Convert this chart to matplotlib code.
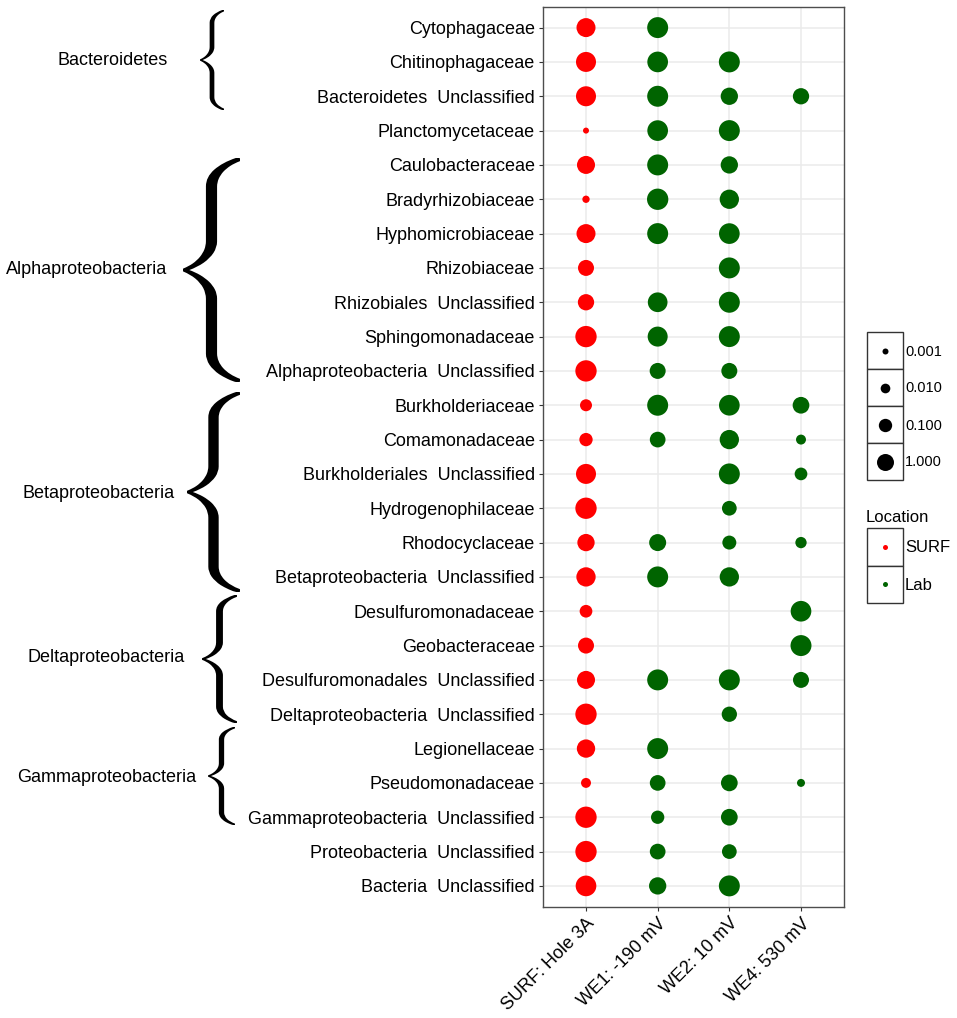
import os
import numpy as np
import matplotlib
matplotlib.use("Agg")
import matplotlib.pyplot as plt
from matplotlib.textpath import TextPath
from matplotlib.font_manager import FontProperties
from matplotlib.patches import PathPatch, Rectangle
from matplotlib.transforms import Affine2D

plt.rcParams['font.family'] = ['Liberation Sans', 'DejaVu Sans']

# ---------------- data ----------------
families = [
    "Cytophagaceae", "Chitinophagaceae", "Bacteroidetes  Unclassified",
    "Planctomycetaceae", "Caulobacteraceae", "Bradyrhizobiaceae",
    "Hyphomicrobiaceae", "Rhizobiaceae", "Rhizobiales  Unclassified",
    "Sphingomonadaceae", "Alphaproteobacteria  Unclassified",
    "Burkholderiaceae", "Comamonadaceae", "Burkholderiales  Unclassified",
    "Hydrogenophilaceae", "Rhodocyclaceae", "Betaproteobacteria  Unclassified",
    "Desulfuromonadaceae", "Geobacteraceae", "Desulfuromonadales  Unclassified",
    "Deltaproteobacteria  Unclassified", "Legionellaceae", "Pseudomonadaceae",
    "Gammaproteobacteria  Unclassified", "Proteobacteria  Unclassified",
    "Bacteria  Unclassified",
]
samples = ["SURF: Hole 3A", "WE1: -190 mV", "WE2: 10 mV", "WE4: 530 mV"]
sample_location = ["SURF", "Lab", "Lab", "Lab"]
nan = np.nan
surf = [3.5, 6.6, 6.6, 0.001, 1.9, 0.0023, 3.5, 0.53, 0.64, 15, 15,
        0.043, 0.098, 6.6, 15, 1.2, 4.2, 0.067, 0.53, 1.9, 15, 2.3,
        0.012, 15, 15, 10]
we1 = [12, 10, 12, 10, 12, 15, 12, nan, 5.4, 6.6, 0.53,
       12, 0.44, nan, nan, 1.0, 12, nan, nan, 12, nan, 12,
       0.44, 0.098, 0.44, 1.2]
we2 = [nan, 12, 1.2, 12, 1.2, 4.2, 10, 12, 12, 12, 0.53,
       10, 4.2, 12, 0.24, 0.15, 4.2, nan, nan, 12, 0.34, nan,
       0.83, 0.83, 0.24, 12]
we4 = [nan, nan, 0.64, nan, nan, nan, nan, nan, nan, nan, nan,
       0.83, 0.012, 0.067, nan, 0.028, nan, 10, 12, 0.53, nan, nan,
       0.0035, nan, nan, nan]
size_breaks = [0.001, 0.010, 0.100, 1.000]
size_labels = ["0.001", "0.010", "0.100", "1.000"]
locations = ["SURF", "Lab"]
location_colors = {"SURF": "#FF0000", "Lab": "#006400"}

phyla = ["Bacteroidetes", "Alphaproteobacteria", "Betaproteobacteria",
         "Deltaproteobacteria", "Gammaproteobacteria"]

# ---------------- figure ----------------
W, H, DPI = 957, 1018, 100
fig = plt.figure(figsize=(W / DPI, H / DPI), dpi=DPI)
PT = 72.0 / DPI  # points per pixel


def diam_px(v):
    return 17.0 + 3.667 * np.log10(v)


def s_of(v):
    return (diam_px(np.asarray(v, float)) * PT) ** 2


L, R, T, B = 543, 844, 7, 906.5
ax = fig.add_axes([L / W, 1 - B / H, (R - L) / W, (B - T) / H])
n = len(families)
ypos = np.arange(n, 0, -1)
cols = [surf, we1, we2, we4]
for j, vals in enumerate(cols):
    vals = np.asarray(vals, float)
    m = ~np.isnan(vals)
    ax.scatter(np.full(m.sum(), j + 1), ypos[m], s=s_of(vals[m]),
               color=location_colors[sample_location[j]], linewidths=0,
               zorder=3)

ax.set_xlim(0.4, 4.6)
ax.set_ylim(0.4, n + 0.6)
ax.set_yticks(ypos)
ax.set_yticklabels(families, fontsize=13)
ax.set_xticks(range(1, 5))
ax.set_xticklabels(samples, fontsize=13, rotation=45, ha='right',
                   va='top', rotation_mode='anchor')
ax.tick_params(length=3, width=0.8, color='#333333', pad=3,
               labelcolor='black')
ax.grid(True, color='#EBEBEB', lw=1.1)
ax.set_axisbelow(True)
for sp in ax.spines.values():
    sp.set_color('#4d4d4d')
    sp.set_linewidth(1.0)

# ---------------- overlay (braces + legends) ----------------
ov = fig.add_axes([0, 0, 1, 1], zorder=5)
ov.set_xlim(0, W)
ov.set_ylim(H, 0)
ov.axis('off')
ov.patch.set_visible(False)

brace_boxes = [(200, 224, 10, 110), (183, 240, 158, 382),
               (187, 240, 392, 592), (202, 237, 595, 723),
               (208, 235, 727, 825)]
label_pos = [(168, 60), (167, 270), (175, 493), (185, 658), (196, 777)]


def brace_path():
    try:
        fname = os.path.join(matplotlib.get_data_path(), 'fonts', 'ttf',
                             'cmex10.ttf')
        tp = TextPath((0, 0), '\x28', size=100,
                      prop=FontProperties(fname=fname))
        e = tp.get_extents()
        if e.width > 1 and e.height > 1 and e.height > 2 * e.width:
            return tp
    except Exception:
        pass
    return TextPath((0, 0), "{", size=100,
                    prop=FontProperties(family='Liberation Serif'))


tp = brace_path()
ext = tp.get_extents()
for (x0, x1, y0, y1), name, (lx, ly) in zip(brace_boxes, phyla, label_pos):
    tr = (Affine2D().translate(-ext.x0, -ext.y1)
          .scale((x1 - x0) / ext.width, -(y1 - y0) / ext.height)
          .translate(x0, y0))
    ov.add_patch(PathPatch(tr.transform_path(tp), facecolor='black',
                           edgecolor='none'))
    ov.text(lx, ly, name, fontsize=13, ha='right', va='center')

# size legend
bx0, bw, by0, bh = 867, 36, 332, 37
for k, (v, lab) in enumerate(zip(size_breaks, size_labels)):
    yy = by0 + k * bh
    ov.add_patch(Rectangle((bx0, yy), bw, bh, facecolor='white',
                           edgecolor='#333333', lw=1.0))
    ov.scatter([bx0 + bw / 2], [yy + bh / 2], s=s_of(v), color='black',
               linewidths=0)
    ov.text(bx0 + bw + 2, yy + bh / 2 + 1, lab, fontsize=10.5,
            ha='left', va='center')

# location legend
ov.text(866, 518, "Location", fontsize=12, ha='left', va='center')
ly0 = 528
for k, loc in enumerate(locations):
    yy = ly0 + k * 37.5
    ov.add_patch(Rectangle((bx0, yy), bw, 37.5, facecolor='white',
                           edgecolor='#333333', lw=1.0))
    ov.scatter([bx0 + bw / 2], [yy + 37.5 / 2], s=(5 * PT) ** 2,
               color=location_colors[loc], linewidths=0)
    ov.text(bx0 + bw + 2, yy + 37.5 / 2 + 1, loc, fontsize=12,
            ha='left', va='center')

fig.savefig("out.png", dpi=DPI)
